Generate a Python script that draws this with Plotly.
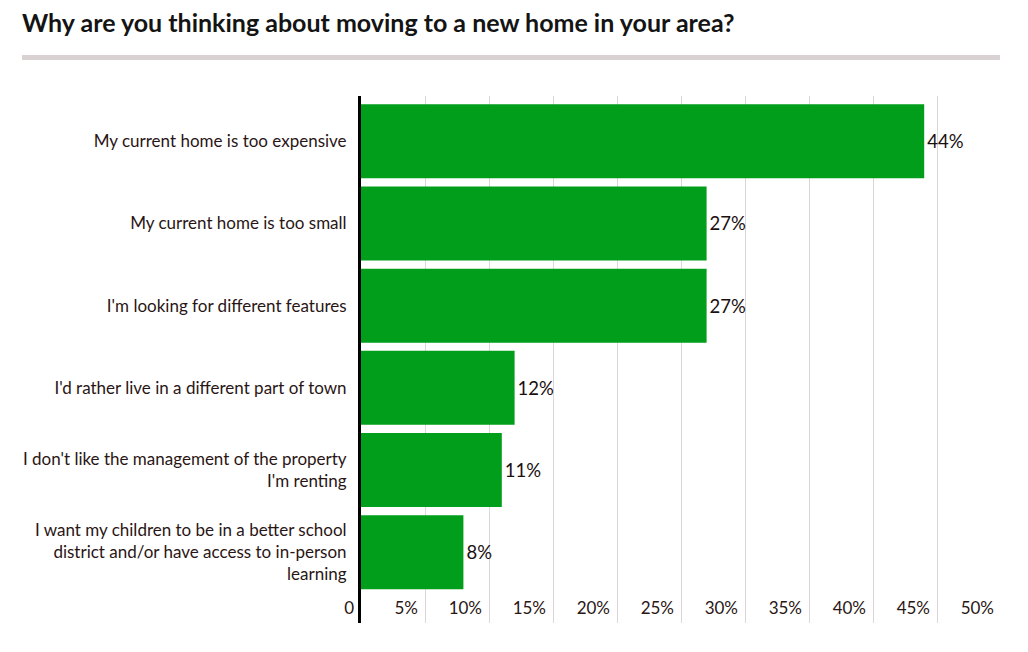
import plotly.graph_objects as go

categories = [
    "My current home is too expensive",
    "My current home is too small",
    "I'm looking for different features",
    "I'd rather live in a different part of town",
    "I don't like the management of the property<br>I'm renting",
    "I want my children to be in a better school<br>district and/or have access to in-person<br>learning",
]
values = [44, 27, 27, 12, 11, 8]
value_labels = ["44%", "27%", "27%", "12%", "11%", "8%"]
x_tickvals = [0, 5, 10, 15, 20, 25, 30, 35, 40, 45, 50]
x_ticktext = ["0", "5%", "10%", "15%", "20%", "25%", "30%", "35%", "40%", "45%", "50%"]
title_text = "Why are you thinking about moving to a new home in your area?"

# page body has an 8px margin
OFF = 8
W, H = 1028 - 2 * OFF, 652 - 2 * OFF
L = 361 - OFF
T = 96 - OFF
R = W - (1001 - OFF)
B = H - (623 - OFF)
PW, PH = W - L - R, H - T - B

fig = go.Figure()
fig.add_trace(go.Bar(
    x=values,
    y=categories,
    orientation="h",
    marker=dict(color="#009E1A", line=dict(width=0)),
    text=value_labels,
    textposition="outside",
    textfont=dict(family="Lato", size=18.5, color="#1a1010"),
    cliponaxis=False,
    hoverinfo="skip",
))

fig.update_layout(
    width=W, height=H,
    margin=dict(l=L, r=R, t=T, b=B, pad=0),
    paper_bgcolor="white",
    plot_bgcolor="white",
    bargap=0.1,
    showlegend=False,
    font=dict(family="Lato", size=17, color="#2a1515"),
    title=dict(
        text="<b>" + title_text + "</b>",
        font=dict(family="Lato", size=25, color="#141414"),
        xref="container", x=(22 - OFF) / W, xanchor="left",
        yref="container", y=1 - (23 - OFF) / H, yanchor="middle",
    ),
    xaxis=dict(
        range=[0, 50],
        tickvals=x_tickvals,
        ticktext=x_ticktext,
        ticklabelposition="inside left",
        ticklabeloverflow="allow",
        ticklabelshift=-7,
        showgrid=True,
        gridcolor="#ddd5d8",
        gridwidth=1,
        zeroline=False,
        showline=False,
        ticks="",
        ticklen=0,
        tickfont=dict(family="Lato", size=17, color="#2a1515"),
        fixedrange=True,
    ),
    yaxis=dict(
        categoryorder="array",
        categoryarray=categories,
        range=[5.86, -0.55],
        showline=True,
        linecolor="black",
        linewidth=3,
        showgrid=False,
        zeroline=False,
        ticks="",
        ticklabelstandoff=8,
        tickfont=dict(family="Lato", size=17, color="#2a1515"),
        fixedrange=True,
    ),
    shapes=[dict(
        type="rect", xref="paper", yref="paper",
        x0=(22 - OFF - L) / PW, x1=(1000 - OFF - L) / PW,
        y0=(H - (60 - OFF)) / PH - B / PH, y1=(H - (55 - OFF)) / PH - B / PH,
        fillcolor="#d9d1d2", line=dict(width=0), layer="above",
    )],
)

fig.write_html("out.html")
